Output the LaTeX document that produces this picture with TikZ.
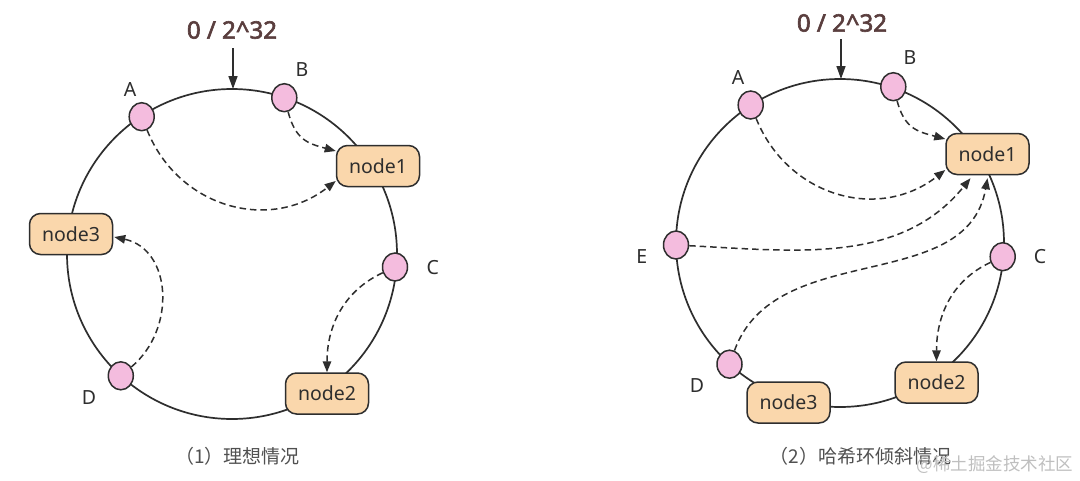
\documentclass[tikz,border=0pt]{standalone}
\usepackage{fontspec}
\setmainfont{Noto Sans}
\newfontfamily\cjk{Noto Sans CJK SC}
\newfontfamily\titlefont{Noto Sans}[FakeBold=2.6]
\usetikzlibrary{arrows.meta,shapes.geometric,calc}
\definecolor{ink}{HTML}{2E2E2E}
\definecolor{srvfill}{HTML}{FAD7AC}
\definecolor{keyfill}{HTML}{F4BCDE}
\definecolor{titlecol}{HTML}{5A3E3E}
\definecolor{capcol}{HTML}{505050}
\begin{document}
\begin{tikzpicture}[x=1pt,y=1pt,
  ring/.style={draw=ink, line width=1.7pt},
  srv/.style={draw=ink, line width=1.5pt, fill=srvfill, rounded corners=11pt,
    minimum width=83pt, minimum height=41pt, inner sep=0pt,
    font=\fontsize{19.5}{22}\selectfont, text=ink},
  keynode/.style={ellipse, draw=ink, line width=1.5pt, fill=keyfill,
    minimum width=25pt, minimum height=28pt, inner sep=0pt},
  lbl/.style={font=\fontsize{19.5}{22}\selectfont, text=ink, inner sep=0pt},
  ttl/.style={font=\titlefont\fontsize{24}{27}\selectfont, text=titlecol, inner sep=0pt},
  capt/.style={font=\cjk\fontsize{19}{22}\selectfont, text=capcol, inner sep=0pt},
  hop/.style={draw=ink, line width=1.5pt, dash pattern=on 6.5pt off 4pt,
    -{Triangle[length=11pt,width=8.5pt]}},
  toparrow/.style={draw=ink, line width=1.5pt, -{Triangle[length=13pt,width=9pt]}}
]
\useasboundingbox (0,-480) rectangle (1080,0);
\fill[white] (0,-480) rectangle (1080,0);

% ---------------- left ring ----------------
\coordinate (lc) at (232,-254);
\draw[ring] (lc) circle[radius=165];

\node[srv] (ln1) at (378,-166) {node1};
\node[srv] (ln2) at (327,-393.5) {node2};
\node[srv] (ln3) at (71,-234) {node3};
\node[keynode] (lA) at (141.7,-116.7) {};
\node[keynode] (lB) at (284.3,-97.7) {};
\node[keynode] (lC) at (395,-267) {};
\node[keynode] (lD) at (120.8,-375.8) {};
\node[lbl] (lAl) at (130,-90) {A};
\node[lbl] (lBl) at (302,-70) {B};
\node[lbl] (lCl) at (432.7,-268) {C};
\node[lbl] (lDl) at (89,-398) {D};

\node[ttl] (lttl) at (232,-30) {0 / 2\textasciicircum 32};
\coordinate (lt0) at (233,-48);
\coordinate (ltop) at (233,-89);
\draw[toparrow] (lt0) -- (ltop);

\draw[hop] (lB) to[out=-75, in=165, looseness=1.2] ($(ln1.west)+(0,15)$);
\draw[hop] (lA) to[out=-68, in=-142, looseness=1.1] ($(ln1.west)+(0,-15)$);
\draw[hop] (lD) to[out=40, in=-12, looseness=1.15] ($(ln3.east)+(1,-3)$);
\draw[hop] (lC) to[out=205, in=90] (ln2.north);

\node[capt] (lcap) at (237.5,-456) {（1）理想情况};

% ---------------- right ring ----------------
\coordinate (rc) at (840,-243);
\draw[ring] (rc) circle[radius=164];

\node[srv] (rn1) at (987.5,-154) {node1};
\node[srv] (rn2) at (936.5,-382.5) {node2};
\node[srv] (rn3) at (788.5,-402.5) {node3};
\node[keynode] (rA) at (750.7,-105) {};
\node[keynode] (rB) at (893.3,-86.7) {};
\node[keynode] (rC) at (1002.7,-256.7) {};
\node[keynode] (rD) at (729.5,-364.2) {};
\node[keynode] (rE) at (676,-245) {};
\node[lbl] (rAl) at (738,-78) {A};
\node[lbl] (rBl) at (910,-58) {B};
\node[lbl] (rCl) at (1040,-257) {C};
\node[lbl] (rDl) at (697,-386) {D};
\node[lbl] (rEl) at (641.7,-257) {E};

\node[ttl] (rttl) at (842,-23) {0 / 2\textasciicircum 32};
\coordinate (rt0) at (841,-39);
\coordinate (rtop) at (841,-79);
\draw[toparrow] (rt0) -- (rtop);

\draw[hop] (rB) to[out=-75, in=165, looseness=1.2] ($(rn1.west)+(0,15)$);
\draw[hop] (rA) to[out=-68, in=-142, looseness=1.1] ($(rn1.west)+(0,-16)$);
\draw[hop] (rE) to[out=-3, in=-129, out distance=110pt, in distance=110pt] ($(rn1.south)+(-17,-3)$);
\draw[hop] (rD) to[out=70, in=-100] ($(rn1.south)+(0,-3)$);
\draw[hop] (rC) to[out=205, in=90] (rn2.north);

\node[capt] (rcap) at (860.5,-456) {（2）哈希环倾斜情况};
\node[capt, font=\cjk\fontsize{17.5}{20}\selectfont, text=black!25] (wm) at (995,-465) {@稀土掘金技术社区};
\end{tikzpicture}
\end{document}
